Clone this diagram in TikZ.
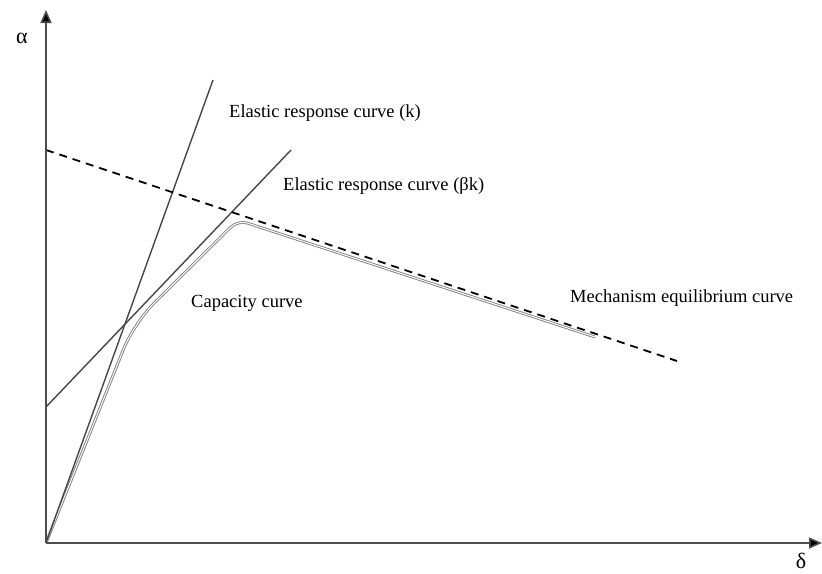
\documentclass[tikz,border=0pt]{standalone}
\usepackage{fontspec}
\setmainfont{Liberation Serif}
\usetikzlibrary{arrows.meta}
\begin{document}
\begin{tikzpicture}[x=1pt,y=-1pt,
  axis/.style={draw=black!70, line width=1.6pt, -{Triangle[length=13pt,width=11pt,fill=black]}},
  elastic/.style={draw=black!72, line width=1.4pt},
  mech/.style={draw=black, line width=1.8pt, dash pattern=on 8pt off 6pt},
  capacity/.style={draw=black!50, line width=0.9pt, double=white, double distance=1pt},
  lbl/.style={font=\fontsize{18.5}{20}\selectfont, text=black, inner sep=0pt},
  axlbl/.style={font=\fontsize{22}{24}\selectfont, text=black, inner sep=0pt}]
\useasboundingbox (0,0) rectangle (822,573);
% coordinates
\coordinate (O) at (46,543);
\coordinate (ytop) at (46,10);
\coordinate (xend) at (822,543);
\coordinate (kend) at (213,80);
\coordinate (bks) at (46,407);
\coordinate (bke) at (291,150);
\coordinate (ms) at (46,150);
\coordinate (me) at (677,361);
\coordinate (c1) at (134,323);
\coordinate (c2) at (238,220);
\coordinate (c3) at (595,337);
% capacity curve
\draw[capacity] (O) [rounded corners=28pt] -- (c1) [rounded corners=10pt] -- (c2) [sharp corners] -- (c3);
% elastic lines
\draw[elastic] (O) -- (kend);
\draw[elastic] (bks) -- (bke);
% mechanism line
\draw[mech] (ms) -- (me);
% axes
\draw[axis] (O) -- (ytop);
\draw[axis] (O) -- (xend);
% labels
\node[axlbl] (alpha) at (22,38) {α};
\node[axlbl] (delta) at (801,561) {δ};
\node[lbl, anchor=west] (lk) at (229,113) {Elastic response curve (k)};
\node[lbl, anchor=west] (lbk) at (283,186) {Elastic response curve (βk)};
\node[lbl, anchor=west] (lcap) at (191,303) {Capacity curve};
\node[lbl, anchor=west] (lmech) at (570,298) {Mechanism equilibrium curve};
\end{tikzpicture}
\end{document}
